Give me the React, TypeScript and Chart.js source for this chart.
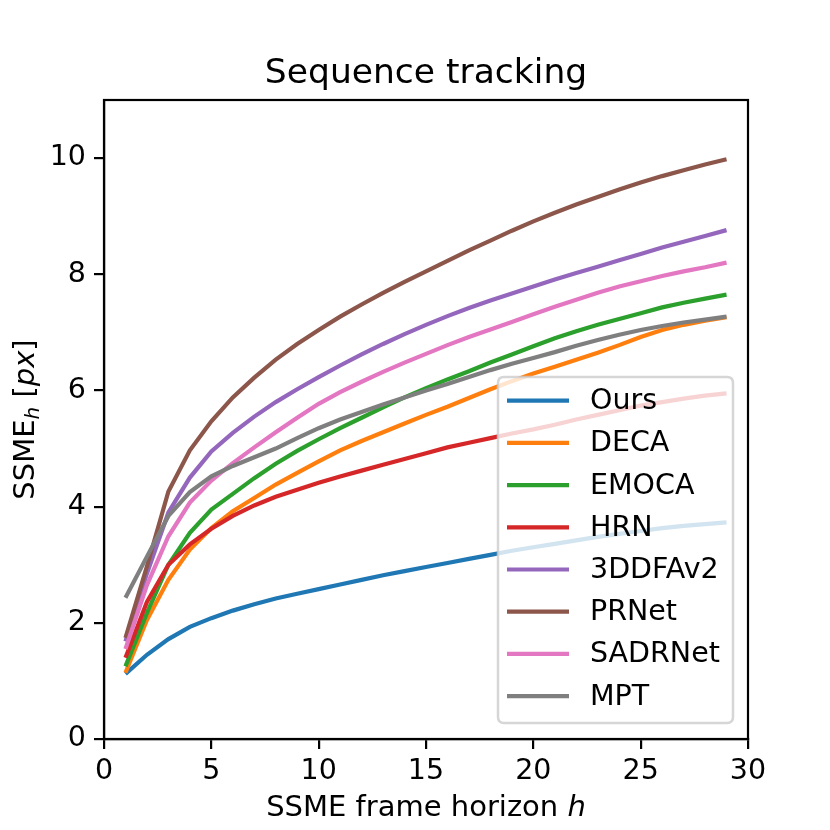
import React, { useEffect, useRef } from "react";
import { Chart, registerables } from "chart.js";

Chart.register(...registerables);

const horizon = [1, 2, 3, 4, 5, 6, 7, 8, 9, 10, 11, 12, 13, 14, 15, 16, 17, 18, 19, 20, 21, 22, 23, 24, 25, 26, 27, 28, 29];

const ours = [1.12, 1.45, 1.72, 1.93, 2.08, 2.21, 2.32, 2.42, 2.5, 2.58, 2.66, 2.74, 2.82, 2.89, 2.96, 3.03, 3.1, 3.17, 3.24, 3.3, 3.36, 3.42, 3.48, 3.53, 3.58, 3.63, 3.67, 3.7, 3.73];
const deca = [1.14, 2.05, 2.74, 3.26, 3.63, 3.92, 4.15, 4.38, 4.58, 4.78, 4.97, 5.13, 5.28, 5.43, 5.58, 5.72, 5.87, 6.02, 6.16, 6.29, 6.41, 6.53, 6.65, 6.78, 6.92, 7.04, 7.13, 7.2, 7.26];
const emoca = [1.25, 2.17, 3.0, 3.55, 3.95, 4.22, 4.49, 4.74, 4.96, 5.16, 5.35, 5.53, 5.71, 5.88, 6.04, 6.19, 6.33, 6.48, 6.62, 6.76, 6.9, 7.02, 7.13, 7.23, 7.33, 7.43, 7.51, 7.58, 7.65];
const hrn = [1.4, 2.36, 3.0, 3.35, 3.62, 3.84, 4.02, 4.17, 4.29, 4.41, 4.52, 4.62, 4.72, 4.82, 4.92, 5.02, 5.1, 5.18, 5.26, 5.33, 5.41, 5.5, 5.58, 5.66, 5.74, 5.8, 5.86, 5.91, 5.95];
const ddfa = [1.68, 2.85, 3.9, 4.5, 4.95, 5.27, 5.55, 5.8, 6.02, 6.23, 6.43, 6.62, 6.8, 6.97, 7.13, 7.28, 7.42, 7.55, 7.67, 7.79, 7.91, 8.02, 8.13, 8.24, 8.35, 8.46, 8.56, 8.66, 8.76];
const prnet = [1.74, 2.97, 4.26, 4.97, 5.47, 5.88, 6.22, 6.53, 6.8, 7.04, 7.27, 7.48, 7.68, 7.87, 8.05, 8.23, 8.41, 8.58, 8.75, 8.91, 9.06, 9.2, 9.33, 9.46, 9.58, 9.69, 9.79, 9.89, 9.98];
const sadrnet = [1.55, 2.65, 3.49, 4.07, 4.45, 4.75, 5.02, 5.28, 5.53, 5.77, 5.97, 6.15, 6.32, 6.48, 6.63, 6.78, 6.92, 7.05, 7.18, 7.31, 7.44, 7.56, 7.68, 7.79, 7.88, 7.97, 8.05, 8.12, 8.2];
const mpt = [2.43, 3.14, 3.84, 4.25, 4.52, 4.7, 4.85, 5.0, 5.18, 5.35, 5.5, 5.63, 5.76, 5.88, 6.0, 6.11, 6.23, 6.35, 6.46, 6.56, 6.66, 6.77, 6.87, 6.96, 7.04, 7.11, 7.17, 7.22, 7.27];

const seriesNames = ["Ours", "DECA", "EMOCA", "HRN", "3DDFAv2", "PRNet", "SADRNet", "MPT"];
const seriesValues = [ours, deca, emoca, hrn, ddfa, prnet, sadrnet, mpt];
const seriesColors = ["#1f77b4", "#ff7f0e", "#2ca02c", "#d62728", "#9467bd", "#8c564b", "#e377c2", "#7f7f7f"];

const xTickValues = [0, 5, 10, 15, 20, 25, 30];
const yTickValues = [0, 2, 4, 6, 8, 10];

const titleText = "Sequence tracking";
const FONT = '"DejaVu Sans"';

const decorPlugin = {
  id: "decor",
  afterDatasetsDraw(chart: any) {
    const { ctx, chartArea: a } = chart;
    ctx.save();
    ctx.strokeStyle = "#000";
    ctx.lineWidth = 2.2;
    ctx.strokeRect(a.left, a.top, a.right - a.left, a.bottom - a.top);
    ctx.restore();
  },
  afterDraw(chart: any) {
    const { ctx, chartArea: a } = chart;
    const cx = (a.left + a.right) / 2;
    ctx.save();
    ctx.fillStyle = "#000";
    // title
    ctx.font = `34.5px ${FONT}`;
    ctx.textAlign = "center";
    ctx.textBaseline = "alphabetic";
    ctx.fillText(titleText, cx, a.top - 17);

    // x label
    ctx.textAlign = "left";
    const xl1 = "SSME frame horizon ";
    const xl2 = "h";
    ctx.font = `29px ${FONT}`;
    const w1 = ctx.measureText(xl1).width;
    ctx.font = `italic 29px ${FONT}`;
    const w2 = ctx.measureText(xl2).width;
    const sx = cx - (w1 + w2) / 2;
    const by = 816;
    ctx.font = `29px ${FONT}`;
    ctx.fillText(xl1, sx, by);
    ctx.font = `italic 29px ${FONT}`;
    ctx.fillText(xl2, sx + w1, by);

    // y label (rotated)
    const cy = (a.top + a.bottom) / 2;
    const parts = [
      { t: "SSME", f: `29px ${FONT}`, dy: 0 },
      { t: "h", f: `italic 20px ${FONT}`, dy: 5 },
      { t: " [", f: `29px ${FONT}`, dy: 0 },
      { t: "px", f: `italic 29px ${FONT}`, dy: 0 },
      { t: "]", f: `29px ${FONT}`, dy: 0 },
    ];
    let total = 0;
    const widths: number[] = [];
    for (const p of parts) {
      ctx.font = p.f;
      const w = ctx.measureText(p.t).width;
      widths.push(w);
      total += w;
    }
    ctx.translate(34, cy);
    ctx.rotate(-Math.PI / 2);
    let px = -total / 2;
    parts.forEach((p, i) => {
      ctx.font = p.f;
      ctx.fillText(p.t, px, p.dy);
      px += widths[i];
    });
    ctx.setTransform(1, 0, 0, 1, 0, 0);

    // legend
    const lx = 498, ly = 377, lw = 235, lh = 346, r = 6;
    ctx.beginPath();
    ctx.moveTo(lx + r, ly);
    ctx.lineTo(lx + lw - r, ly);
    ctx.quadraticCurveTo(lx + lw, ly, lx + lw, ly + r);
    ctx.lineTo(lx + lw, ly + lh - r);
    ctx.quadraticCurveTo(lx + lw, ly + lh, lx + lw - r, ly + lh);
    ctx.lineTo(lx + r, ly + lh);
    ctx.quadraticCurveTo(lx, ly + lh, lx, ly + lh - r);
    ctx.lineTo(lx, ly + r);
    ctx.quadraticCurveTo(lx, ly, lx + r, ly);
    ctx.closePath();
    ctx.fillStyle = "rgba(255,255,255,0.8)";
    ctx.fill();
    ctx.strokeStyle = "rgba(204,204,204,0.8)";
    ctx.lineWidth = 2.5;
    ctx.stroke();

    ctx.font = `28.5px ${FONT}`;
    ctx.textBaseline = "middle";
    ctx.textAlign = "left";
    seriesNames.forEach((name, i) => {
      const ry = 400.7 + i * 42.2;
      ctx.strokeStyle = seriesColors[i];
      ctx.lineWidth = 4.2;
      ctx.beginPath();
      ctx.moveTo(507, ry);
      ctx.lineTo(569, ry);
      ctx.stroke();
      ctx.fillStyle = "#000";
      ctx.fillText(name, 590, ry + 1);
    });
    ctx.restore();
  },
};

export default function App() {
  const canvasRef = useRef<HTMLCanvasElement | null>(null);

  useEffect(() => {
    const canvas = canvasRef.current;
    if (!canvas) return;
    const n = seriesNames.length;
    const datasets = seriesNames.map((name, i) => ({
      label: name,
      data: horizon.map((h, j) => ({ x: h, y: seriesValues[i][j] })),
      borderColor: seriesColors[i],
      backgroundColor: seriesColors[i],
      borderWidth: 4.2,
      pointRadius: 0,
      tension: 0,
      fill: false,
      order: n - i,
    }));

    const axisCommon = {
      grid: {
        display: true,
        drawOnChartArea: false,
        drawTicks: true,
        tickLength: 10,
        tickWidth: 2.2,
        tickColor: "#000",
        color: "#000",
        lineWidth: 2.2,
      },
      border: { display: true, color: "#000", width: 2.2 },
    };

    const chart = new Chart(canvas, {
      type: "line",
      data: { datasets },
      plugins: [decorPlugin],
      options: {
        responsive: false,
        animation: false,
        devicePixelRatio: 1,
        layout: { padding: { left: 0, right: 82, top: 100, bottom: 0 } },
        plugins: {
          legend: { display: false },
          tooltip: { enabled: false },
          title: { display: false },
        },
        scales: {
          x: {
            type: "linear",
            min: 0,
            max: 30,
            ...axisCommon,
            afterBuildTicks: (s: any) => {
              s.ticks = xTickValues.map((v) => ({ value: v }));
            },
            afterFit: (s: any) => {
              s.height = 91;
            },
            ticks: {
              color: "#000",
              font: { family: "DejaVu Sans", size: 28.5 },
              padding: 5,
              maxRotation: 0,
              autoSkip: false,
            },
          },
          y: {
            type: "linear",
            min: 0,
            max: 11,
            ...axisCommon,
            afterBuildTicks: (s: any) => {
              s.ticks = yTickValues.map((v) => ({ value: v }));
            },
            afterFit: (s: any) => {
              s.width = 104;
            },
            ticks: {
              color: "#000",
              font: { family: "DejaVu Sans", size: 28.5 },
              padding: 8,
              autoSkip: false,
            },
          },
        },
      },
    } as any);

    return () => chart.destroy();
  }, []);

  return (
    <div style={{ position: "absolute", left: 0, top: 0, width: 830, height: 830, background: "#fff" }}>
      <canvas ref={canvasRef} width={830} height={830} style={{ width: 830, height: 830, display: "block" }} />
    </div>
  );
}
